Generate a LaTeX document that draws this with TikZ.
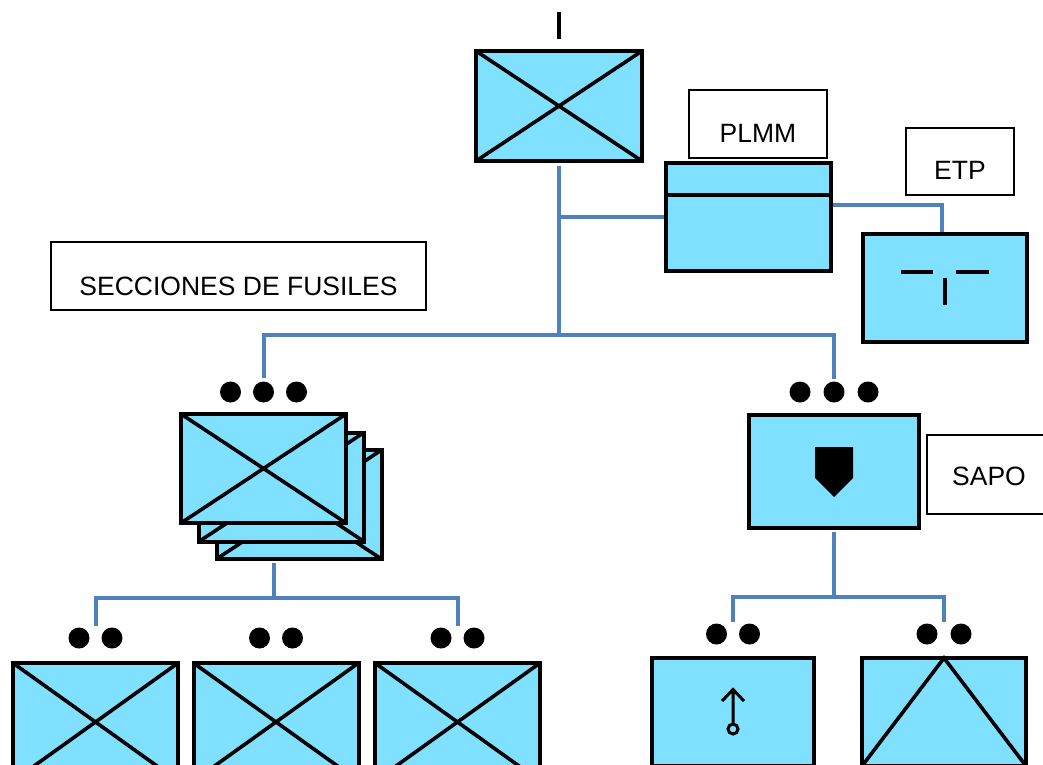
\documentclass[tikz,border=0pt]{standalone}
\usepackage{fontspec}
\setmainfont{Liberation Sans}
\usetikzlibrary{calc}
\definecolor{unitfill}{RGB}{128,224,255}
\definecolor{linkblue}{RGB}{79,129,189}
\tikzset{
  unit/.style={rectangle, draw=black, line width=4pt, fill=unitfill,
    inner sep=0pt, outer sep=0pt},
  xline/.style={draw=black, line width=3.6pt},
  sym/.style={draw=black, line width=3.6pt},
  link/.style={draw=linkblue, line width=4pt},
  tag/.style={rectangle, draw=black, line width=1.3pt, fill=white,
    inner sep=0pt, outer sep=0pt, text depth=0pt,
    font=\fontsize{26.5}{31}\selectfont},
  dot/.style={fill=black}
}
\begin{document}
\begin{tikzpicture}[x=1pt, y=-1pt]
\useasboundingbox (0,0) rectangle (1043,764);
\clip (0,0) rectangle (1043,764);
\fill[white] (0,0) rectangle (1043,764);

% --- battalion / company headquarters ---
\node[unit, minimum width=166pt, minimum height=110pt] (top) at (559,106) {};
\draw[xline] (top.north west) -- (top.south east) (top.north east) -- (top.south west);
\draw[black, line width=4pt] ([yshift=12pt]top.north) -- ([yshift=39pt]top.north);

% --- PLMM ---
\node[unit, minimum width=165pt, minimum height=108pt] (plmm) at (748.5,217) {};
\draw[black, line width=4pt] (plmm.west |- 0,195) -- (plmm.east |- 0,195);
\node[tag, minimum width=138pt, minimum height=68pt, text height=37pt] (plmmtag) at (758,124) {PLMM};

% --- ETP ---
\node[tag, minimum width=108pt, minimum height=67pt, text height=36pt] (etptag) at (960,161.5) {ETP};
\node[unit, minimum width=164pt, minimum height=108pt] (etp) at (945,288) {};
\draw[sym] ($(etp)+(-44,-16)$) -- ($(etp)+(-12,-16)$)
           ($(etp)+(11,-16)$) -- ($(etp)+(44,-16)$)
           ($(etp)+(0,-10)$) -- ($(etp)+(0,17)$);

% --- rifle sections label ---
\node[tag, minimum width=375pt, minimum height=68pt, text height=39pt] (sectag) at (238.5,276) {SECCIONES DE FUSILES};

% --- stacked rifle sections ---
\node[unit, minimum width=165pt, minimum height=109pt] (stackC) at (299,504.5) {};
\draw[xline] (stackC.north west) -- (stackC.south east) (stackC.north east) -- (stackC.south west);
\node[unit, minimum width=165pt, minimum height=109pt] (stackB) at (281.5,487) {};
\draw[xline] (stackB.north west) -- (stackB.south east) (stackB.north east) -- (stackB.south west);
\node[unit, minimum width=165pt, minimum height=109pt] (stackA) at (263.5,468.5) {};
\draw[xline] (stackA.north west) -- (stackA.south east) (stackA.north east) -- (stackA.south west);
\foreach \dx in {-33,0,33} \fill[dot] ($(stackA.north)+(\dx,-22)$) circle (10.5pt);

% --- SAPO ---
\node[unit, minimum width=170pt, minimum height=113pt] (sapo) at (834,471.5) {};
\fill[black] ($(sapo)+(-19,-24.5)$) -- ($(sapo)+(19,-24.5)$) -- ($(sapo)+(19,6.5)$)
  -- ($(sapo)+(0,25.5)$) -- ($(sapo)+(-19,6.5)$) -- cycle;
\foreach \dx in {-34,0,34} \fill[dot] ($(sapo.north)+(\dx,-23)$) circle (10.5pt);
% the label box is open on the right: it runs on past the page edge
\node[tag, draw=none, anchor=west, minimum height=79pt, text height=22.5pt] (sapotag) at (927,474.5)
  {\makebox[124pt]{SAPO}};
\draw[black, line width=1.3pt] ([xshift=40pt]sapotag.north east) -- (sapotag.north west)
  -- (sapotag.south west) -- ([xshift=40pt]sapotag.south east);

% --- squads under the rifle sections ---
\foreach \n/\cx in {b1/95.5, b2/276, b3/457.5} {
  \node[unit, minimum width=165pt, minimum height=118pt] (\n) at (\cx,722) {};
  \draw[xline] (\n.north west) -- (\n.south east) (\n.north east) -- (\n.south west);
  \foreach \dx in {-16.5,16.5} \fill[dot] ($(\n.north)+(\dx,-25)$) circle (10.5pt);
}

% --- squads under SAPO ---
\node[unit, minimum width=162pt, minimum height=108pt] (b4) at (733,712) {};
\draw[black, line width=3pt] ($(b4)+(0,12)$) -- ($(b4)+(0,-22)$)
  ($(b4)+(-11,-11)$) -- ($(b4)+(0,-22.5)$) -- ($(b4)+(11,-11)$);
\draw[black, line width=3pt] ($(b4)+(0,17)$) circle (5pt);
\foreach \dx in {-16.5,16.5} \fill[dot] ($(b4.north)+(\dx,-24)$) circle (10.5pt);

\node[unit, minimum width=164pt, minimum height=108pt] (b5) at (944,712) {};
\draw[xline] (b5.south west) -- (b5.north) -- (b5.south east);
\foreach \dx in {-17,17} \fill[dot] ($(b5.north)+(\dx,-24)$) circle (10.5pt);

% --- connectors ---
\coordinate (bus) at (559,335);
\coordinate (bus2) at (274,598);
\coordinate (bus3) at (834,597);
\draw[link] ([yshift=-5pt]top.south) -- (bus);
\draw[link] (top.south |- plmm.west) -- ([xshift=-2pt]plmm.west);
\draw[link] ([yshift=12pt,xshift=2pt]plmm.east) -| ([xshift=-3pt,yshift=2pt]etp.north);
\draw[link] ([yshift=36pt]stackA.north) |- (bus) -| ([yshift=36pt]sapo.north);
\draw[link] ([yshift=-4pt]bus2 |- stackC.south) -- (bus2);
\draw[link] ([yshift=37pt]b1.north) |- (bus2) -| ([yshift=37pt]b3.north);
\draw[link] ([yshift=-4pt]sapo.south) -- (bus3);
\draw[link] ([yshift=36pt]b4.north) |- (bus3) -| ([yshift=36pt]b5.north);
\end{tikzpicture}
\end{document}
